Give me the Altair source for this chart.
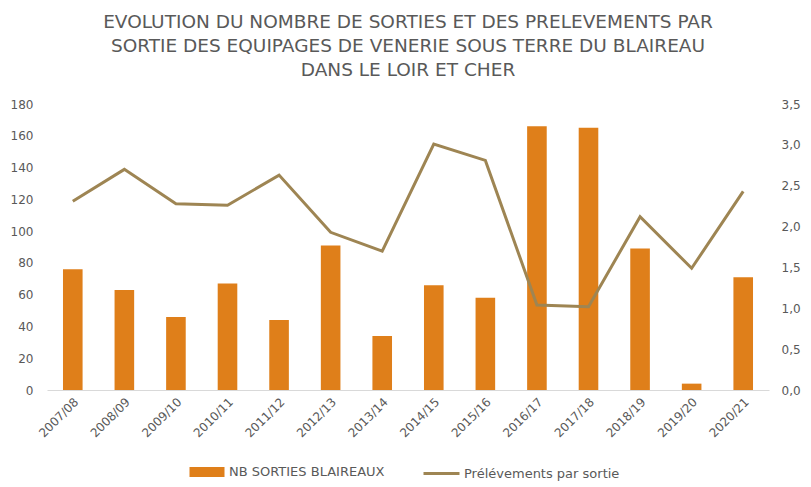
import altair as alt
import pandas as pd

saisons = ["2007/08", "2008/09", "2009/10", "2010/11", "2011/12", "2012/13", "2013/14",
           "2014/15", "2015/16", "2016/17", "2017/18", "2018/19", "2019/20", "2020/21"]
nb_sorties = [76, 63, 46, 67, 44, 91, 34, 66, 58, 166, 165, 89, 4, 71]
prelevements = [2.31, 2.70, 2.28, 2.26, 2.63, 1.93, 1.70, 3.01, 2.81, 1.04, 1.02, 2.12, 1.49, 2.43]

df = pd.DataFrame({"saison": saisons, "nb": nb_sorties, "prel": prelevements})

FONT = "DejaVu Sans"
GRAY = "#595959"
ORANGE = "#DF7F1A"
BROWN = "#9E8553"

x = alt.X("saison:N", sort=saisons, title=None,
          scale=alt.Scale(paddingInner=0.62, paddingOuter=0.31),
          axis=alt.Axis(labelAngle=-45, labelFontSize=12, labelColor=GRAY, labelFont=FONT,
                        ticks=False, domainColor="#d9d9d9", labelPadding=6))

bars = alt.Chart(df).mark_bar(color=ORANGE).encode(
    x=x,
    y=alt.Y("nb:Q", title=None, scale=alt.Scale(domain=[0, 180]),
            axis=alt.Axis(values=list(range(0, 181, 20)), grid=False, domain=False, ticks=False,
                          labelFontSize=12, labelColor=GRAY, labelFont=FONT, labelPadding=14)),
    fill=alt.Fill("s1:N", scale=alt.Scale(domain=["NB SORTIES BLAIREAUX"], range=[ORANGE]),
                  legend=alt.Legend(title=None, orient="none", legendX=150, legendY=358,
                                    symbolType="M-1.75,-0.5H1.75V0.5H-1.75Z", symbolSize=400,
                                    labelOffset=12, labelFontSize=13,
                                    labelColor=GRAY, labelFont=FONT, symbolStrokeWidth=0)),
).transform_calculate(s1="'NB SORTIES BLAIREAUX'")

line = alt.Chart(df).mark_line(strokeWidth=3).encode(
    x=x,
    y=alt.Y("prel:Q", title=None, scale=alt.Scale(domain=[0, 3.5]),
            axis=alt.Axis(orient="right", values=[0, 0.5, 1, 1.5, 2, 2.5, 3, 3.5], grid=False,
                          domain=False, ticks=False, labelFontSize=12, labelColor=GRAY,
                          labelFont=FONT, labelPadding=12,
                          labelExpr="replace(format(datum.value, '.1f'), '.', ',')")),
    stroke=alt.Stroke("s2:N", scale=alt.Scale(domain=["Prélévements par sortie"], range=[BROWN]),
                      legend=alt.Legend(title=None, orient="none", legendX=375, legendY=350,
                                        symbolType="stroke", symbolSize=1296, symbolStrokeWidth=3,
                                        labelOffset=3,
                                        labelFontSize=13, labelColor=GRAY, labelFont=FONT)),
).transform_calculate(s2="'Prélévements par sortie'")

chart = alt.layer(bars, line).resolve_scale(
    y="independent", fill="independent", stroke="independent"
).properties(
    width=722, height=286,
    title=alt.Title(["EVOLUTION DU NOMBRE DE SORTIES ET DES PRELEVEMENTS PAR",
                     "SORTIE DES EQUIPAGES DE VENERIE SOUS TERRE DU BLAIREAU",
                     "DANS LE LOIR ET CHER"],
                    font=FONT, fontSize=18.5, fontWeight="normal", color=GRAY, lineHeight=24,
                    anchor="middle", offset=19),
    padding={"left": 2, "top": 4, "right": 0, "bottom": 0},
).configure(background="white").configure_view(stroke=None)

chart.save("out.html", embed_options={"renderer": "svg", "actions": False})
